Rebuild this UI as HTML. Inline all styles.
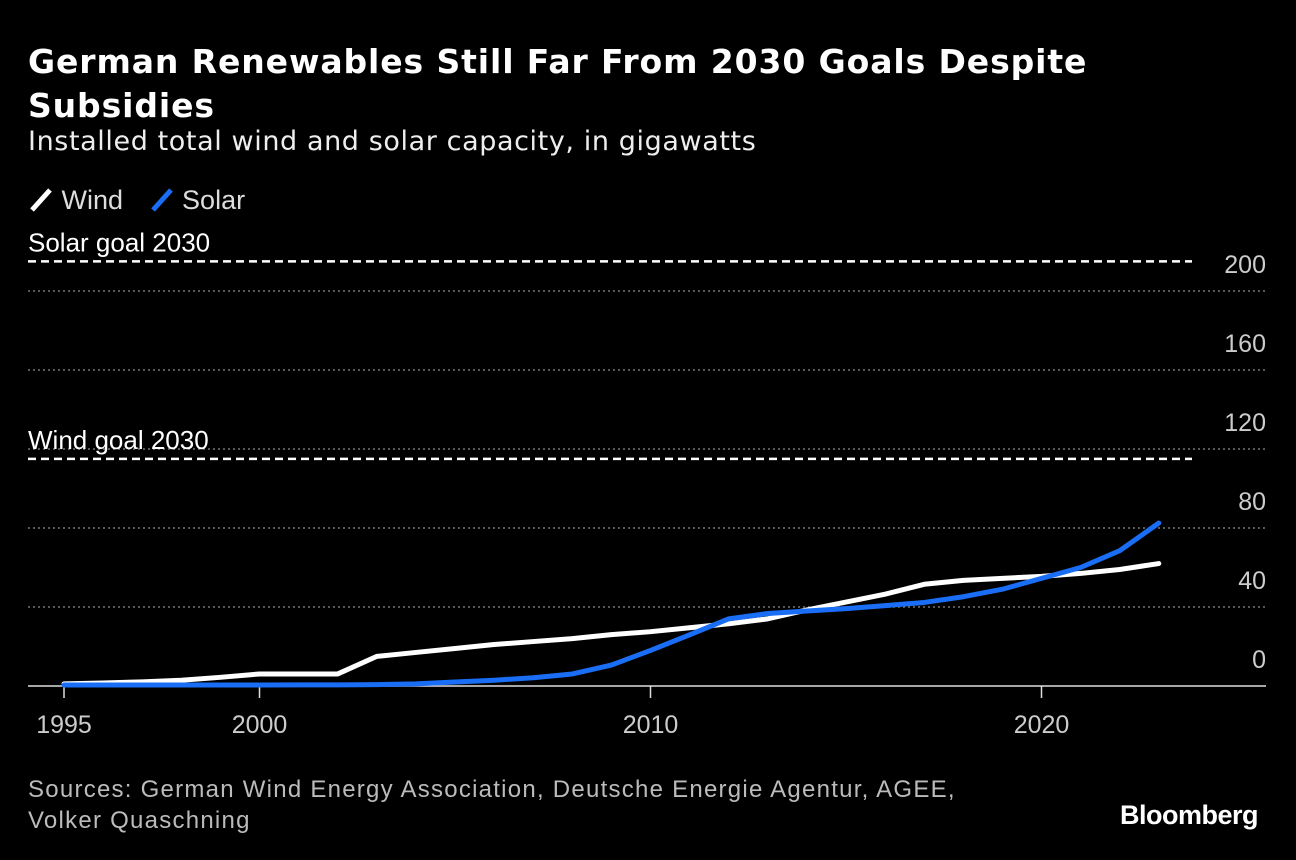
<!DOCTYPE html>
<html><head><meta charset="utf-8"><style>
body{margin:0;background:#000;width:1296px;height:860px;overflow:hidden;font-family:"Liberation Sans",sans-serif;color:#fff}
#title{position:absolute;left:28px;top:40px;font-family:"DejaVu Sans",sans-serif;font-size:33px;font-weight:bold;line-height:44px;width:1120px;letter-spacing:0.9px}
#sub{position:absolute;left:28px;top:126px;font-family:"DejaVu Sans",sans-serif;font-size:27px;color:#eee;letter-spacing:0.6px}
#legend{position:absolute;left:28px;top:185px;font-size:27px;color:#ddd}
#src{position:absolute;left:28px;top:774px;font-size:24px;color:#bbb;line-height:31px;letter-spacing:1.25px}
#brand{position:absolute;right:38px;top:800px;font-size:27px;font-weight:bold;letter-spacing:-0.5px}
svg{position:absolute;left:0;top:0}
</style></head><body>
<div id="title">German Renewables Still Far From 2030 Goals Despite Subsidies</div>
<div id="sub">Installed total wind and solar capacity, in gigawatts</div>
<div id="legend">
<span><svg style="position:relative;vertical-align:-3px" width="26" height="26"><line x1="4" y1="24" x2="22" y2="4" stroke="#fff" stroke-width="5"/></svg> Wind</span>
<span style="margin-left:18px"><svg style="position:relative;vertical-align:-3px" width="26" height="26"><line x1="4" y1="24" x2="22" y2="4" stroke="#1a6ef5" stroke-width="5"/></svg> Solar</span>
</div>
<svg id="chart" width="1296" height="860"></svg>
<div id="src">Sources: German Wind Energy Association, Deutsche Energie Agentur, AGEE,<br>Volker Quaschning</div>
<div id="brand">Bloomberg</div>
<script>
const years=[1995,1996,1997,1998,1999,2000,2001,2002,2003,2004,2005,2006,2007,2008,2009,2010,2011,2012,2013,2014,2015,2016,2017,2018,2019,2020,2021,2022,2023];
const wind=[1.1,1.5,2.1,2.9,4.4,6.1,6.1,6.1,15,17,19,21,22.5,24,26,27.5,29.5,31.5,34,38.5,42.5,46.5,51.5,53.5,54.5,55.5,57,59,62];
const solar=[0.5,0.5,0.5,0.5,0.5,0.5,0.6,0.6,0.7,1.1,2,2.9,4.2,6.1,10.6,18,25.9,34,36.7,38,39.2,40.7,42.3,45.2,49,54.5,60,68.5,82.5];
const yTicks=[0,40,80,120,160,200];
const xTicks=[1995,2000,2010,2020];
const goals=[{label:"Solar goal 2030",value:215},{label:"Wind goal 2030",value:115}];
const svg=document.getElementById('chart');const NS="http://www.w3.org/2000/svg";
const X=y=>64+(y-1995)*39.1, Y=v=>686-v*1.975;
function mk(t,a,p){const e=document.createElementNS(NS,t);for(const k in a)e.setAttribute(k,a[k]);(p||svg).appendChild(e);return e;}
yTicks.forEach(v=>{
 if(v>0){const g=mk('line',{x1:28,x2:1266,y1:Y(v),y2:Y(v),stroke:'#777','stroke-width':1.5,'stroke-dasharray':'2,3'});
 
 }
 const t=mk('text',{x:1266,y:Y(v)-18,'text-anchor':'end','font-size':25,fill:'#ccc'});t.textContent=v;
 
 
});
goals.forEach(g=>{
 const l=mk('line',{x1:28,x2:1192,y1:Y(g.value),y2:Y(g.value),stroke:'#fff','stroke-width':2.5,'stroke-dasharray':'8,5'});
 
 
 const t=mk('text',{x:28,y:Y(g.value)-10,'font-size':26,fill:'#fff'});t.textContent=g.label;
 
 
});
const ax=mk('line',{x1:28,x2:1266,y1:686,y2:686,stroke:'#ddd','stroke-width':1.5});


xTicks.forEach(yr=>{
 const tk=mk('line',{x1:X(yr),x2:X(yr),y1:686,y2:698,stroke:'#ddd','stroke-width':1.5});
 
 
 const t=mk('text',{x:X(yr),y:733,'text-anchor':'middle','font-size':25,fill:'#ccc'});t.textContent=yr;
 
 
});
function line(vals,color,name){
 const p=mk('polyline',{points:years.map((y,i)=>X(y)+','+Y(vals[i])).join(' '),fill:'none',stroke:color,'stroke-width':5,'stroke-linejoin':'round','stroke-linecap':'round'});
 
 
}
line(wind,'#fff','wind-line');
line(solar,'#1a6ef5','solar-line');
</script>
</body></html>
